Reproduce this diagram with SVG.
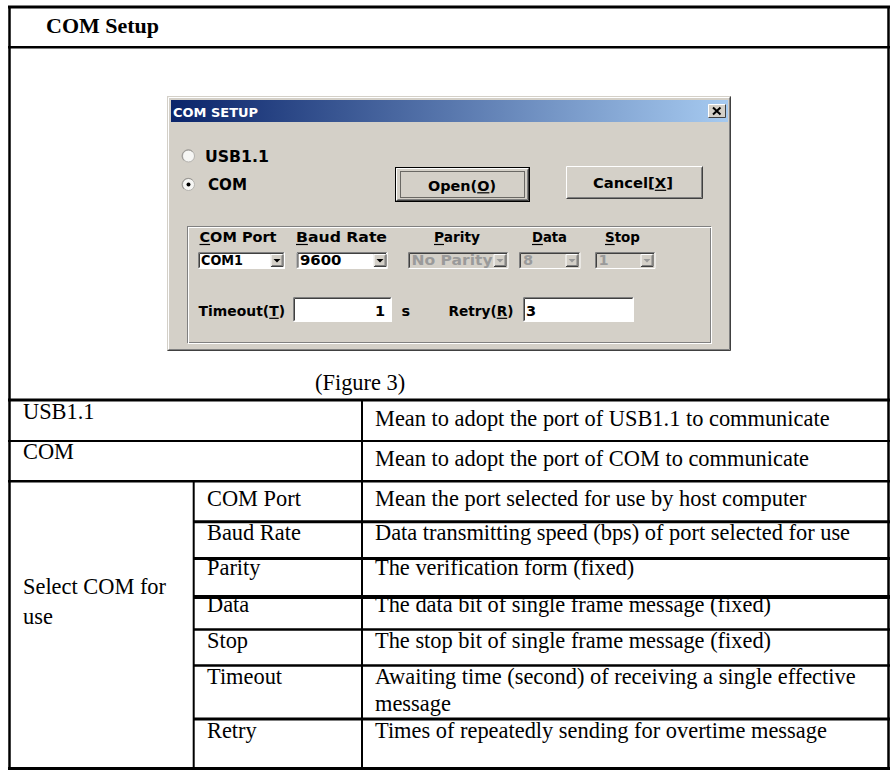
<svg xmlns="http://www.w3.org/2000/svg" width="891" height="771" viewBox="0 0 891 771">
  <defs>
    <linearGradient id="titleGrad" x1="0" y1="0" x2="1" y2="0">
      <stop offset="0" stop-color="#0a246a"/>
      <stop offset="1" stop-color="#a6caf0"/>
    </linearGradient>
    <!-- raised drop-down button, 13x13 -->
    <g id="ddBtn">
      <rect x="0" y="0" width="13" height="13" fill="#d4d0c8"/>
      <path d="M0.5,12.5 V0.5 H12.5" fill="none" stroke="#ffffff"/>
      <path d="M0.5,12.5 H12.5 V0.5" fill="none" stroke="#404040"/>
      <path d="M1.5,11.5 H11.5 V1.5" fill="none" stroke="#808080"/>
      <path d="M3,5 H10 L6.5,8.5 Z" fill="#000"/>
    </g>
    <g id="ddBtnOff">
      <rect x="0" y="0" width="13" height="13" fill="#d4d0c8"/>
      <path d="M0.5,12.5 V0.5 H12.5" fill="none" stroke="#ffffff"/>
      <path d="M0.5,12.5 H12.5 V0.5" fill="none" stroke="#404040"/>
      <path d="M1.5,11.5 H11.5 V1.5" fill="none" stroke="#808080"/>
      <path d="M3,5 H10 L6.5,8.5 Z" fill="#9a9a9a"/>
    </g>
  </defs>
  <style>
    .rule { stroke: #000; fill: none; }
    .cell { font-family: "Liberation Serif", "Times New Roman", serif; font-size: 22.4px; fill: #000; }
    .hdr { font-weight: bold; font-size: 22px; }
    .ui { font-family: "DejaVu Sans", Verdana, sans-serif; font-weight: bold; font-size: 14.5px; fill: #000; }
    .dim { fill: #9a9a9a; }
    .ul { stroke: #000; stroke-width: 1.2; }
    .sunkA { fill: none; stroke: #808080; }
    .sunkB { fill: none; stroke: #ffffff; }
    .sunkC { fill: none; stroke: #404040; }
  </style>

  <rect width="891" height="771" fill="#ffffff"/>

  <!-- table rules -->
  <g id="table-rules" class="rule">
    <line x1="8" y1="7" x2="890" y2="7" stroke-width="3"/>
    <line x1="8" y1="768.5" x2="890" y2="768.5" stroke-width="3"/>
    <line x1="9.5" y1="6" x2="9.5" y2="770" stroke-width="2.5"/>
    <line x1="888.5" y1="6" x2="888.5" y2="770" stroke-width="2.5"/>
    <line x1="8" y1="47.3" x2="890" y2="47.3" stroke-width="2.5"/>
    <line x1="8" y1="400" x2="890" y2="400" stroke-width="3"/>
    <line x1="8" y1="441" x2="890" y2="441" stroke-width="2"/>
    <line x1="8" y1="481.3" x2="890" y2="481.3" stroke-width="2.5"/>
    <line x1="362" y1="400" x2="362" y2="768" stroke-width="2"/>
    <line x1="193.7" y1="481" x2="193.7" y2="768" stroke-width="2"/>
    <line x1="193" y1="521.7" x2="890" y2="521.7" stroke-width="3"/>
    <line x1="193" y1="558.5" x2="890" y2="558.5" stroke-width="3"/>
    <line x1="193" y1="597" x2="890" y2="597" stroke-width="4"/>
    <line x1="193" y1="629.5" x2="890" y2="629.5" stroke-width="2.5"/>
    <line x1="193" y1="665.5" x2="890" y2="665.5" stroke-width="2.5"/>
    <line x1="193" y1="719" x2="890" y2="719" stroke-width="3"/>
  </g>

  <!-- heading -->
  <g id="heading">
    <text class="cell hdr" x="46" y="33">COM Setup</text>
  </g>

  <!-- COM SETUP dialog window -->
  <g id="com-setup-dialog">
    <rect x="167" y="96" width="564" height="255" fill="#d4d0c8"/>
    <path d="M168.5,350 V97.5 H730" fill="none" stroke="#ffffff"/>
    <path d="M167.5,350.5 H730.5 V96.5" fill="none" stroke="#404040"/>
    <path d="M168.5,349.5 H729.5 V97.5" fill="none" stroke="#808080"/>

    <g id="title-bar">
      <rect x="171" y="100" width="557" height="22" fill="url(#titleGrad)"/>
      <text class="ui" x="173" y="117" style="fill:#ffffff;font-size:13px" textLength="85" lengthAdjust="spacingAndGlyphs">COM SETUP</text>
      <g id="close-button">
        <rect x="708" y="104" width="18" height="14" fill="#d4d0c8"/>
        <path d="M708.5,117.5 V104.5 H725.5" fill="none" stroke="#ffffff"/>
        <path d="M708.5,117.5 H725.5 V104.5" fill="none" stroke="#404040"/>
        <path d="M713,107.5 L720.5,114.5 M720.5,107.5 L713,114.5" stroke="#000" stroke-width="2"/>
      </g>
    </g>

    <g id="radio-usb">
      <circle cx="188.5" cy="156" r="6" fill="#f6f6f4" stroke="#b4b2ae"/>
      <path d="M184,160.5 A6,6 0 0 1 192.5,151.5" fill="none" stroke="#9a9894"/>
      <text class="ui" x="205" y="162" style="font-size:15.5px" textLength="64" lengthAdjust="spacingAndGlyphs">USB1.1</text>
    </g>
    <g id="radio-com">
      <circle cx="188.5" cy="184.5" r="6" fill="#f6f6f4" stroke="#b4b2ae"/>
      <path d="M184,189 A6,6 0 0 1 192.5,180" fill="none" stroke="#9a9894"/>
      <circle cx="188.5" cy="184.5" r="2" fill="#000"/>
      <text class="ui" x="208" y="190" style="font-size:15.5px" textLength="39" lengthAdjust="spacingAndGlyphs">COM</text>
    </g>

    <g id="open-button">
      <rect x="395" y="167" width="135" height="35" fill="#d4d0c8"/>
      <rect x="395.5" y="167.5" width="134" height="34" fill="none" stroke="#000"/>
      <path d="M396.5,200.5 V168.5 H528.5" fill="none" stroke="#ffffff"/>
      <path d="M396.5,200.5 H528.5 V168.5" fill="none" stroke="#404040"/>
      <path d="M397.5,199.5 H527.5 V169.5" fill="none" stroke="#808080"/>
      <rect x="400.5" y="171.5" width="124" height="26" fill="none" stroke="#000" stroke-dasharray="1 1"/>
      <text class="ui" x="428" y="190.5" textLength="68" lengthAdjust="spacingAndGlyphs">Open(O)</text>
      <line class="ul" x1="477.2" y1="192.8" x2="489.4" y2="192.8"/>
    </g>
    <g id="cancel-button">
      <rect x="566" y="166" width="137" height="33" fill="#d4d0c8"/>
      <path d="M566.5,198.5 V166.5 H702.5" fill="none" stroke="#ffffff"/>
      <path d="M566.5,198.5 H702.5 V166.5" fill="none" stroke="#404040"/>
      <path d="M567.5,197.5 H701.5 V167.5" fill="none" stroke="#808080"/>
      <text class="ui" x="593" y="188" textLength="80" lengthAdjust="spacingAndGlyphs">Cancel[X]</text>
      <line class="ul" x1="654.8" y1="190.3" x2="666.2" y2="190.3"/>
    </g>

    <g id="port-group">
      <rect x="187.5" y="226.5" width="523" height="116" fill="none" stroke="#808080"/>
      <rect x="188.5" y="227.5" width="523" height="116" fill="none" stroke="#ffffff"/>

      <text class="ui" x="199.5" y="242" textLength="77" lengthAdjust="spacingAndGlyphs">COM Port</text>
      <text class="ui" x="296" y="242" textLength="91" lengthAdjust="spacingAndGlyphs">Baud Rate</text>
      <text class="ui" x="434" y="242" textLength="46" lengthAdjust="spacingAndGlyphs">Parity</text>
      <text class="ui" x="532" y="242" textLength="35" lengthAdjust="spacingAndGlyphs">Data</text>
      <text class="ui" x="605" y="242" textLength="35" lengthAdjust="spacingAndGlyphs">Stop</text>
      <g id="accelerator-marks">
        <line class="ul" x1="199.5" y1="244.5" x2="210.1" y2="244.5"/>
        <line class="ul" x1="296" y1="244.5" x2="307.9" y2="244.5"/>
        <line class="ul" x1="434" y1="244.5" x2="444" y2="244.5"/>
        <line class="ul" x1="532" y1="244.5" x2="542.9" y2="244.5"/>
        <line class="ul" x1="605" y1="244.5" x2="614.7" y2="244.5"/>
      </g>

      <!-- COM port combo -->
      <g id="combo-port">
        <rect x="198" y="252" width="87" height="17" fill="#ffffff"/>
        <path d="M198.5,268.5 V252.5 H284.5" class="sunkA"/>
        <path d="M199.5,267.5 V253.5 H283.5" class="sunkC"/>
        <path d="M198.5,268.5 H284.5 V252.5" class="sunkB"/>
        <use href="#ddBtn" x="270.5" y="254"/>
        <text class="ui" x="201" y="265" textLength="42" lengthAdjust="spacingAndGlyphs">COM1</text>
      </g>
      <!-- baud rate combo -->
      <g id="combo-baud">
        <rect x="296.5" y="252" width="91" height="17" fill="#ffffff"/>
        <path d="M297,268.5 V252.5 H387" class="sunkA"/>
        <path d="M298,267.5 V253.5 H386" class="sunkC"/>
        <path d="M297,268.5 H387 V252.5" class="sunkB"/>
        <use href="#ddBtn" x="373.5" y="254"/>
        <text class="ui" x="300" y="265" textLength="41.5" lengthAdjust="spacingAndGlyphs">9600</text>
      </g>
      <!-- parity combo (disabled) -->
      <g id="combo-parity">
        <path d="M408.5,268.5 V252.5 H508" class="sunkA"/>
        <path d="M409.5,267.5 V253.5 H507" class="sunkC"/>
        <path d="M408.5,268.5 H508 V252.5" class="sunkB"/>
        <use href="#ddBtnOff" x="493.5" y="254"/>
        <text class="ui dim" x="411.5" y="265" textLength="81" lengthAdjust="spacingAndGlyphs">No Parity</text>
      </g>
      <!-- data bits combo (disabled) -->
      <g id="combo-data">
        <path d="M519.5,268.5 V252.5 H580" class="sunkA"/>
        <path d="M520.5,267.5 V253.5 H579" class="sunkC"/>
        <path d="M519.5,268.5 H580 V252.5" class="sunkB"/>
        <use href="#ddBtnOff" x="565.5" y="254"/>
        <text class="ui dim" x="523" y="265">8</text>
      </g>
      <!-- stop bits combo (disabled) -->
      <g id="combo-stop">
        <path d="M595.5,268.5 V252.5 H655" class="sunkA"/>
        <path d="M596.5,267.5 V253.5 H654" class="sunkC"/>
        <path d="M595.5,268.5 H655 V252.5" class="sunkB"/>
        <use href="#ddBtnOff" x="640.5" y="254"/>
        <text class="ui dim" x="598.5" y="265">1</text>
      </g>

      <!-- timeout field -->
      <g id="timeout-field">
        <text class="ui" x="198.5" y="316" textLength="86.5" lengthAdjust="spacingAndGlyphs">Timeout(T)</text>
        <line class="ul" x1="269.2" y1="318.3" x2="278.7" y2="318.3"/>
        <rect x="293" y="297" width="99" height="25" fill="#ffffff"/>
        <path d="M293.5,321.5 V297.5 H391.5" class="sunkA"/>
        <path d="M294.5,320.5 V298.5 H390.5" class="sunkC"/>
        <path d="M293.5,321.5 H391.5 V297.5" class="sunkB"/>
        <text class="ui" x="385" y="316" text-anchor="end">1</text>
        <text class="ui" x="401.5" y="316">s</text>
      </g>
      <!-- retry field -->
      <g id="retry-field">
        <text class="ui" x="448.5" y="316" textLength="65" lengthAdjust="spacingAndGlyphs">Retry(R)</text>
        <line class="ul" x1="496.7" y1="318.3" x2="507.2" y2="318.3"/>
        <rect x="523" y="297" width="111" height="25" fill="#ffffff"/>
        <path d="M523.5,321.5 V297.5 H633.5" class="sunkA"/>
        <path d="M524.5,320.5 V298.5 H632.5" class="sunkC"/>
        <path d="M523.5,321.5 H633.5 V297.5" class="sunkB"/>
        <text class="ui" x="526" y="316">3</text>
      </g>
    </g>
  </g>

  <g id="caption">
    <text class="cell" x="315" y="389.5">(Figure 3)</text>
  </g>

  <!-- description rows -->
  <g id="row-usb">
    <text class="cell" x="23" y="419">USB1.1</text>
    <text class="cell" x="375" y="426">Mean to adopt the port of USB1.1 to communicate</text>
  </g>
  <g id="row-com">
    <text class="cell" x="23" y="459">COM</text>
    <text class="cell" x="375" y="466">Mean to adopt the port of COM to communicate</text>
  </g>
  <g id="row-select">
    <text class="cell" x="23" y="593.5">Select COM for</text>
    <text class="cell" x="23" y="623.5">use</text>
  </g>
  <g id="row-port">
    <text class="cell" x="207" y="505.5">COM Port</text>
    <text class="cell" x="375" y="505.5">Mean the port selected for use by host computer</text>
  </g>
  <g id="row-baud">
    <text class="cell" x="207" y="539.5">Baud Rate</text>
    <text class="cell" x="375" y="539.5">Data transmitting speed (bps) of port selected for use</text>
  </g>
  <g id="row-parity">
    <text class="cell" x="207" y="575">Parity</text>
    <text class="cell" x="375" y="575">The verification form (fixed)</text>
  </g>
  <g id="row-data">
    <text class="cell" x="207" y="611.5">Data</text>
    <text class="cell" x="375" y="611.5">The data bit of single frame message (fixed)</text>
  </g>
  <g id="row-stop">
    <text class="cell" x="207" y="648.3">Stop</text>
    <text class="cell" x="375" y="648.3">The stop bit of single frame message (fixed)</text>
  </g>
  <g id="row-timeout">
    <text class="cell" x="207" y="683.5">Timeout</text>
    <text class="cell" x="375" y="683.5">Awaiting time (second) of receiving a single effective</text>
    <text class="cell" x="375" y="710.5">message</text>
  </g>
  <g id="row-retry">
    <text class="cell" x="207" y="738.3">Retry</text>
    <text class="cell" x="375" y="738.3">Times of repeatedly sending for overtime message</text>
  </g>
</svg>
